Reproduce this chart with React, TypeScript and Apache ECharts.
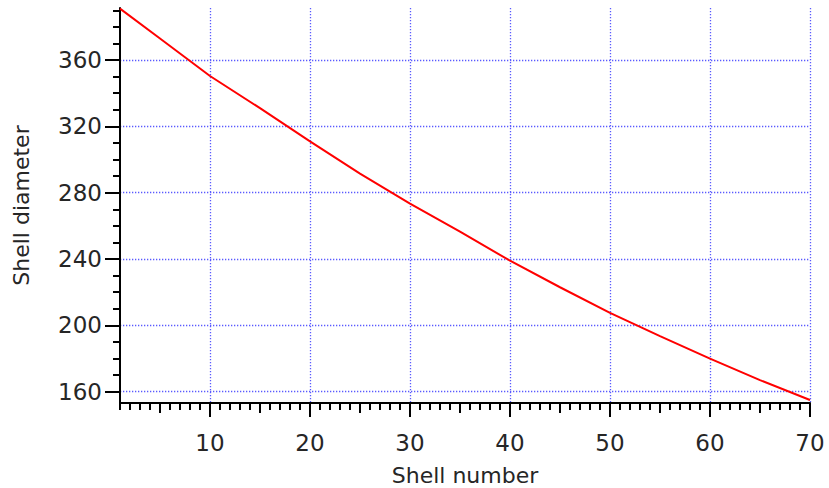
import React, { useEffect, useRef } from "react";
import * as echarts from "echarts";

// Data
const shellNumbers = [1, 5, 10, 15, 20, 25, 30, 35, 40, 45, 50, 55, 60, 65, 70];
const shellDiameters = [391, 373, 350.4, 331, 311, 291.5, 273.4, 256.5, 239, 223, 207.5, 193.5, 180, 167, 155];

// Tick labels
const xTickLabels = [10, 20, 30, 40, 50, 60, 70];
const yTickLabels = [160, 200, 240, 280, 320, 360];

const X_MIN = 1;
const X_MAX = 70;
const Y_MIN = 153.2;
const Y_MAX = 391.4;

const FONT = "DejaVu Sans";
const TEXT_COLOR = "#262626";
const GRID_COLOR = "#5a5aff";

export default function App() {
  const ref = useRef<HTMLDivElement>(null);

  useEffect(() => {
    if (!ref.current) return;
    const chart = echarts.init(ref.current, null, { renderer: "svg" });

    const xMid: number[] = [];
    const xMinor: number[] = [];
    for (let v = 1; v < X_MAX; v++) {
      if (v % 10 === 0) continue;
      if (v % 5 === 0) xMid.push(v);
      else xMinor.push(v);
    }
    const yMinor: number[] = [];
    for (let v = 160; v <= 390; v += 10) {
      if ((v - 160) % 40 !== 0) yMinor.push(v);
    }

    const gridLine = {
      show: true,
      lineStyle: { color: GRID_COLOR, width: 1.3, type: [1.3, 1.7] as any },
    };

    const baseX = {
      type: "value" as const,
      min: X_MIN,
      max: X_MAX,
      position: "bottom" as const,
    };
    const baseY = {
      type: "value" as const,
      min: Y_MIN,
      max: Y_MAX,
      position: "left" as const,
    };

    chart.setOption({
      animation: false,
      backgroundColor: "#ffffff",
      grid: {
        left: 120,
        right: 19,
        top: 8,
        bottom: 85,
        containLabel: false,
        outerBoundsMode: "none",
      },
      xAxis: [
        {
          ...baseX,
          name: "Shell number",
          nameLocation: "middle",
          nameGap: 61,
          nameTextStyle: { fontFamily: FONT, fontSize: 22, color: TEXT_COLOR },
          axisLine: { show: true, onZero: false, lineStyle: { color: "#000", width: 2 } },
          axisTick: {
            show: true,
            customValues: xTickLabels,
            length: 14,
            lineStyle: { color: "#000", width: 2 },
          },
          axisLabel: {
            show: true,
            customValues: xTickLabels,
            fontFamily: FONT,
            fontSize: 23,
            color: TEXT_COLOR,
            margin: 28,
          },
          splitLine: gridLine,
        },
        {
          ...baseX,
          axisLine: { show: false, onZero: false },
          axisTick: { show: true, customValues: xMid, length: 10, lineStyle: { color: "#000", width: 2 } },
          axisLabel: { show: false },
          splitLine: { show: false },
        },
        {
          ...baseX,
          axisLine: { show: false, onZero: false },
          axisTick: { show: true, customValues: xMinor, length: 7, lineStyle: { color: "#000", width: 2 } },
          axisLabel: { show: false },
          splitLine: { show: false },
        },
      ],
      yAxis: [
        {
          ...baseY,
          name: "Shell diameter",
          nameLocation: "middle",
          nameGap: 88,
          nameTextStyle: { fontFamily: FONT, fontSize: 22, color: TEXT_COLOR },
          axisLine: { show: true, onZero: false, lineStyle: { color: "#000", width: 2 } },
          axisTick: {
            show: true,
            customValues: yTickLabels,
            length: 15,
            lineStyle: { color: "#000", width: 2 },
          },
          axisLabel: {
            show: true,
            customValues: yTickLabels,
            fontFamily: FONT,
            fontSize: 23,
            color: TEXT_COLOR,
            margin: 18,
          },
          splitLine: gridLine,
        },
        {
          ...baseY,
          axisLine: { show: false, onZero: false },
          axisTick: { show: true, customValues: yMinor, length: 7, lineStyle: { color: "#000", width: 2 } },
          axisLabel: { show: false },
          splitLine: { show: false },
        },
      ],
      series: [
        {
          type: "line",
          xAxisIndex: 0,
          yAxisIndex: 0,
          data: shellNumbers.map((x, i) => [x, shellDiameters[i]]),
          showSymbol: false,
          symbol: "none",
          lineStyle: { color: "#ff0000", width: 2 },
          z: 5,
        },
      ],
    });

    return () => chart.dispose();
  }, []);

  return (
    <div
      ref={ref}
      style={{ position: "absolute", left: 0, top: 0, width: 829, height: 488 }}
    />
  );
}
